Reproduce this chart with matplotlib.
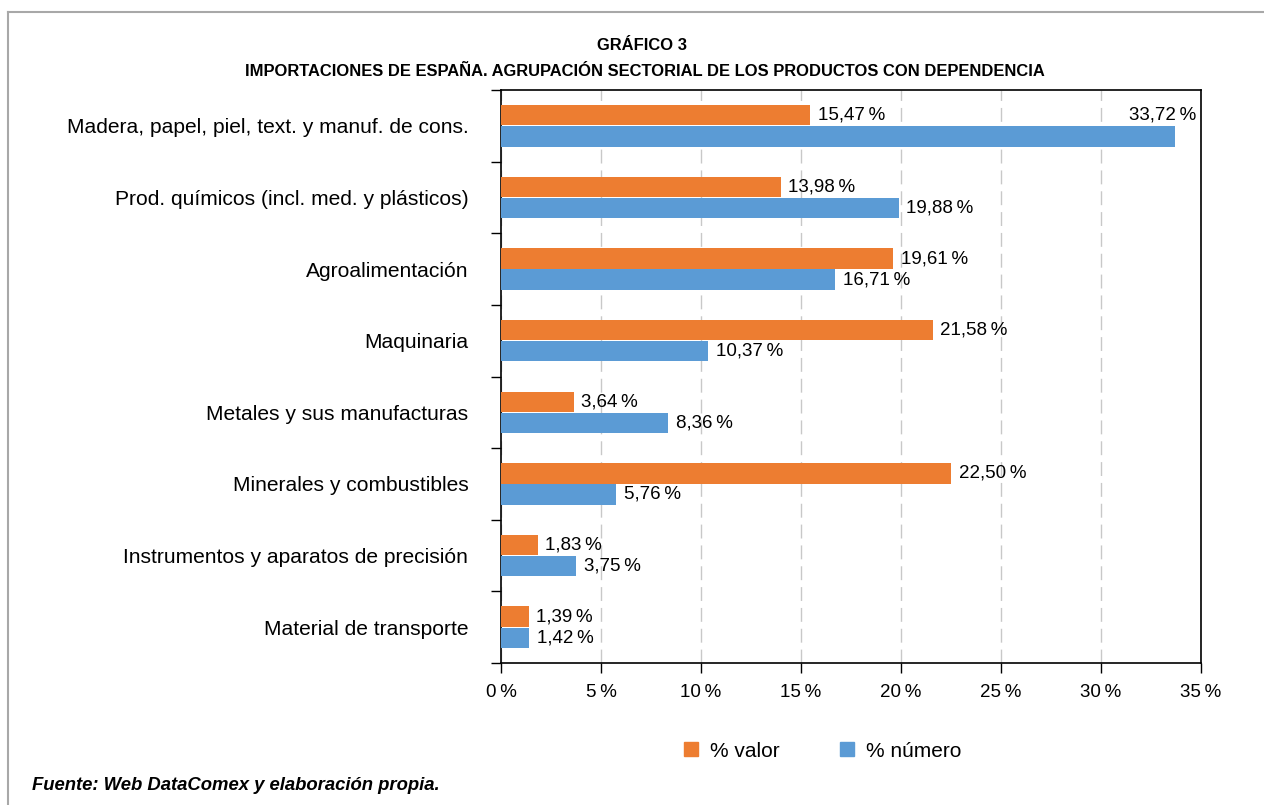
import matplotlib
matplotlib.use('Agg')
import matplotlib.pyplot as plt
import numpy as np
from matplotlib.lines import Line2D
from matplotlib.patches import Patch

plt.rcParams['font.family'] = ['Liberation Sans', 'DejaVu Sans']

# datos
categorias = ['Madera, papel, piel, text. y manuf. de cons.',
              'Prod. químicos (incl. med. y plásticos)',
              'Agroalimentación',
              'Maquinaria',
              'Metales y sus manufacturas',
              'Minerales y combustibles',
              'Instrumentos y aparatos de precisión',
              'Material de transporte']
pct_valor = [15.47, 13.98, 19.61, 21.58, 3.64, 22.50, 1.83, 1.39]
pct_numero = [33.72, 19.88, 16.71, 10.37, 8.36, 5.76, 3.75, 1.42]
xticks = [0, 5, 10, 15, 20, 25, 30, 35]

naranja = '#ED7D31'
azul = '#5B9BD5'

def fmt(v):
    return f'{v:.2f}'.replace('.', ',') + '\u2009%'

fig = plt.figure(figsize=(12.64, 8.05), dpi=100)
ax = fig.add_axes([501 / 1264, 1 - 663 / 805, 700 / 1264, 573 / 805])

y = np.arange(len(categorias))
h = 0.285
ax.barh(y - 0.147, pct_valor, height=h, color=naranja, zorder=3)
ax.barh(y + 0.147, pct_numero, height=h, color=azul, zorder=3)

fs_val = 13.5
for i in range(len(categorias)):
    ax.annotate(fmt(pct_valor[i]), (pct_valor[i], y[i] - 0.147), xytext=(5.5, 0),
                textcoords='offset points', ha='left', va='center', fontsize=fs_val)
    if pct_numero[i] > 30:
        ax.annotate(fmt(pct_numero[i]), (35, y[i] - 0.147), xytext=(-3.5, 0),
                    textcoords='offset points', ha='right', va='center', fontsize=fs_val)
    else:
        ax.annotate(fmt(pct_numero[i]), (pct_numero[i], y[i] + 0.147), xytext=(5.5, 0),
                    textcoords='offset points', ha='left', va='center', fontsize=fs_val)

ax.set_xlim(0, 35)
ax.set_ylim(len(categorias) - 0.5, -0.5)
ax.set_xticks(xticks)
ax.set_xticklabels([f'{t}\u2009%' for t in xticks], fontsize=13.5)
ax.set_yticks(y)
ax.set_yticklabels(categorias, fontsize=15.1)
ax.tick_params(axis='y', length=0, pad=23.5)
ax.set_yticks(np.arange(len(categorias) + 1) - 0.5, minor=True)
ax.tick_params(axis='y', which='minor', length=7, width=1, color='black')
ax.tick_params(axis='x', length=7.2, width=1, direction='out', pad=8)
for s in ax.spines.values():
    s.set_color('black')
    s.set_linewidth(1.2)
ax.grid(axis='x', color='#c8c8c8', linestyle=(0, (10, 5)), linewidth=1, zorder=0)

fig.text(642 / 1264, 1 - 45 / 805, 'GRÁFICO 3', ha='center', va='center',
         fontsize=11.9, fontweight='bold')
fig.text(645 / 1264, 1 - 72 / 805,
         'IMPORTACIONES DE ESPAÑA. AGRUPACIÓN SECTORIAL DE LOS PRODUCTOS CON DEPENDENCIA',
         ha='center', va='center', fontsize=11.9, fontweight='bold')

handles = [Patch(color=naranja, label='% valor'), Patch(color=azul, label='% número')]
fig.legend(handles=handles, loc='center', bbox_to_anchor=(823 / 1264, 1 - 751 / 805),
           ncol=2, frameon=False, fontsize=15, handlelength=0.65, handleheight=0.65,
           columnspacing=2.9, handletextpad=0.6)

fig.text(32 / 1264, 1 - 785 / 805, 'Fuente: Web DataComex y elaboración propia.',
         ha='left', va='center', fontsize=13.3, fontweight='bold', style='italic')

# marco gris
fig.add_artist(Line2D([8 / 1264, 1], [1 - 12 / 805] * 2, color='#a8a8a8', lw=1.5))
fig.add_artist(Line2D([8 / 1264] * 2, [0, 1 - 12 / 805], color='#a8a8a8', lw=1.5))

fig.savefig('out.png', dpi=100)
